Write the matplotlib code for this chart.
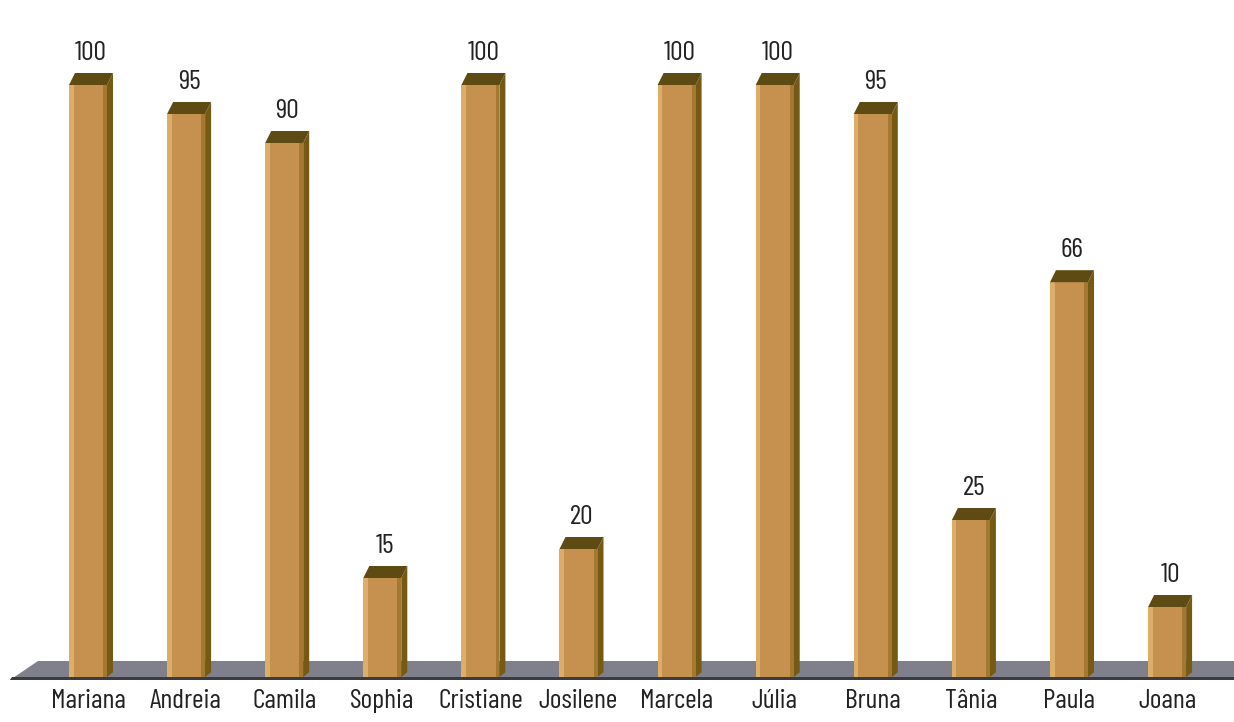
import matplotlib
matplotlib.use("Agg")
import matplotlib.pyplot as plt
from matplotlib.patches import Polygon
import numpy as np

names = ["Mariana", "Andreia", "Camila", "Sophia", "Cristiane", "Josilene",
         "Marcela", "Júlia", "Bruna", "Tânia", "Paula", "Joana"]
values = [100, 95, 90, 15, 100, 20, 100, 100, 95, 25, 66, 10]

W, H = 1234, 722
fig = plt.figure(figsize=(W / 100, H / 100), dpi=100)
ax = fig.add_axes([0, 0, 1, 1])

# pixel geometry -> data scales
x0_px, step_px = 88, 98.1
base_px, top_px = 665, 85
ppu = (base_px - top_px) / 100.0
ax.set_xlim(-x0_px / step_px, (W - x0_px) / step_px)
ax.set_ylim(-(H - base_px) / ppu, 100 + top_px / ppu)
ax.axis("off")

fam = ["Barlow Condensed", "DejaVu Sans"]

# floor slab
fl_top = (base_px - 661) / ppu
fl_bot = (base_px - 680) / ppu
xl = ax.get_xlim()
slant = 28 / step_px
ax.add_patch(Polygon([(xl[0] + 10 / step_px, fl_bot), (xl[0] + 10 / step_px + slant, fl_top),
                      (xl[1], fl_top), (xl[1], fl_bot)], closed=True,
                     facecolor="#80808c", edgecolor="none", zorder=1))
ax.add_patch(Polygon([(xl[0] + 10 / step_px, fl_bot), (xl[1], fl_bot),
                      (xl[1], fl_bot + 0.6), (xl[0] + 12 / step_px, fl_bot + 0.6)],
                     closed=True, facecolor="#3b3b42", edgecolor="none", zorder=1.5))

w = 38 / step_px
dx = 6 / step_px
dy = 12 / ppu
base = (base_px - 677) / ppu
xs = np.arange(len(values))
vals = np.array(values, dtype=float)

ax.bar(xs, vals - base, bottom=base, width=w, color="#c6904e", edgecolor="none", zorder=3)
ax.bar(xs - w / 2 + w * 0.06, vals - base, bottom=base, width=w * 0.12,
       color="#dcae6a", edgecolor="none", zorder=3.1)
ax.bar(xs + w / 2 - w * 0.05, vals - base, bottom=base, width=w * 0.10,
       color="#a47830", edgecolor="none", zorder=3.1)

for x, v in zip(xs, vals):
    r = x + w / 2
    l = x - w / 2
    ax.add_patch(Polygon([(r, base), (r, v), (r + dx, v + dy), (r + dx, base + dy * 0.4)],
                         closed=True, facecolor="#765912", edgecolor="none", zorder=2.9))
    ax.add_patch(Polygon([(l, v), (r, v), (r + dx, v + dy), (l + dx, v + dy)],
                         closed=True, facecolor="#5e4b14", edgecolor="none", zorder=3.2))
    ax.annotate(f"{int(v)}", (x + dx / 2, v + dy), xytext=(0, 6), textcoords="offset points",
                ha="center", va="bottom", fontsize=20, fontweight="normal",
                color="#222222", family=fam, zorder=4)

for x, n in zip(xs, names):
    ax.text(x, (base_px - 701) / ppu, n, ha="center", va="center", fontsize=20,
            fontweight="normal", color="#222222", family=fam)

fig.savefig("out.png", dpi=100, facecolor="white")
